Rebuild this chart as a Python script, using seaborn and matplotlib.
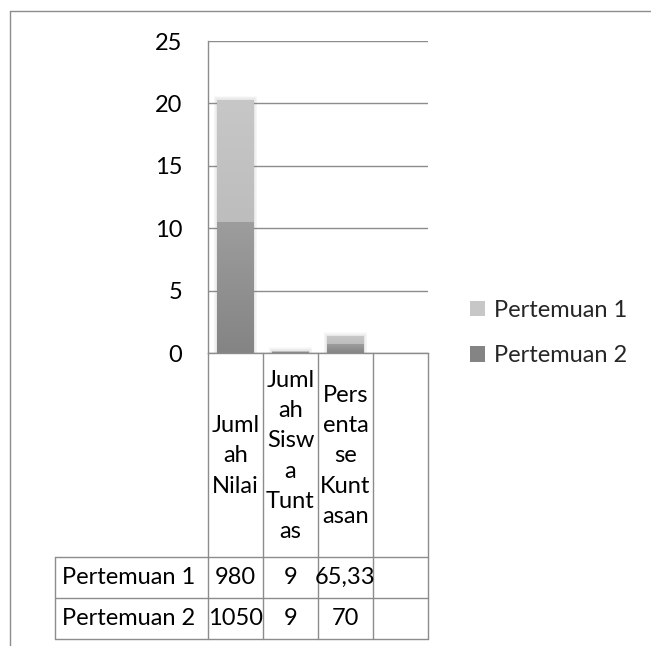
import numpy as np
import pandas as pd
import matplotlib
matplotlib.use("Agg")
import matplotlib.pyplot as plt
import matplotlib.transforms as mtransforms
from matplotlib.lines import Line2D
from matplotlib.patches import Patch, Rectangle
import seaborn as sns

# ---- data ----
categories = ["Jumlah Nilai", "Jumlah Siswa Tuntas", "Persentase Kuntasan"]
header_labels = ["Juml\nah\nNilai", "Juml\nah\nSisw\na\nTunt\nas", "Pers\nenta\nse\nKunt\nasan", ""]
series_names = ["Pertemuan 1", "Pertemuan 2"]
pertemuan_1 = [980, 9, 65.33]
pertemuan_2 = [1050, 9, 70]
table_p1 = ["980", "9", "65,33", ""]
table_p2 = ["1050", "9", "70", ""]
value_unit = 100          # the value axis counts in hundreds
y_ticks = [0, 5, 10, 15, 20, 25]

# ---- style ----
sns.set_theme(style="white")
plt.rcParams["font.family"] = ["Lato", "DejaVu Sans"]
FS = 17
light_top, light_bot = "#c7c7c7", "#b2b2b2"
dark_top, dark_bot = "#9d9d9d", "#848484"
line_col = "#8c8c8c"

W, H = 651, 646
fig = plt.figure(figsize=(W / 100, H / 100), dpi=100)
fig.patch.set_facecolor("white")

x_axis_y, top_y = 353, 41
ax = fig.add_axes([208 / W, 1 - x_axis_y / H, (428 - 208) / W, (x_axis_y - top_y) / H])

df = pd.DataFrame({
    "kategori": categories,
    "p1": np.array(pertemuan_1) / value_unit,
    "p2": np.array(pertemuan_2) / value_unit,
})
df["total"] = df["p1"] + df["p2"]

# stacked bars: Pertemuan 2 at the bottom, Pertemuan 1 above it
sns.barplot(data=df, x="kategori", y="total", color=light_bot, saturation=1,
            width=0.67, ax=ax, linewidth=0, zorder=3)
n_first = len(ax.patches)
sns.barplot(data=df, x="kategori", y="p2", color=dark_bot, saturation=1,
            width=0.67, ax=ax, linewidth=0, zorder=4)

def shade(patch, c_top, c_bot, z):
    """Vertical gradient fill clipped to a bar segment."""
    x0, y0 = patch.get_x(), patch.get_y()
    w, h = patch.get_width(), patch.get_height()
    if h <= 0:
        return
    top = np.array(matplotlib.colors.to_rgb(c_top))
    bot = np.array(matplotlib.colors.to_rgb(c_bot))
    t = np.linspace(0, 1, 64)[:, None]
    grad = (top * (1 - t) + bot * t)[:, None, :]
    im = ax.imshow(grad, extent=(x0, x0 + w, y0, y0 + h), aspect="auto",
                   origin="upper", zorder=z, interpolation="bilinear")
    im.set_clip_path(patch)

def soft_shadow(patch):
    """Faint blurred halo around the outer edge of a bar."""
    x0, w, h = patch.get_x(), patch.get_width(), patch.get_height()
    if h <= 0:
        return
    for k in range(1, 6):
        dx = 0.012 * k
        ax.add_patch(Rectangle((x0 - dx, 0), w + 2 * dx, h + 0.06 * k,
                               facecolor="#7a7a7a", edgecolor="none",
                               alpha=0.035, zorder=2.5))

bars = list(ax.patches)
for i, p in enumerate(bars):
    if i < n_first:
        soft_shadow(p)
        shade(p, light_top, light_bot, 3.5)
    else:
        shade(p, dark_top, dark_bot, 4.5)

ax.set_xlim(-0.5, 3.5)
ax.set_ylim(0, 25)
ax.set_yticks(y_ticks)
ax.set_xticks([])
ax.set_xlabel("")
ax.set_ylabel("")
ax.yaxis.grid(True, color=line_col, linewidth=1)
ax.set_axisbelow(True)
ax.tick_params(axis="y", length=0, pad=18.5, labelsize=FS, labelcolor="black")
for s in ("top", "right"):
    ax.spines[s].set_visible(False)
for s in ("left", "bottom"):
    ax.spines[s].set_color(line_col)
    ax.spines[s].set_linewidth(1)
    ax.spines[s].set_zorder(6)

# ---- data table under the axis ----
pix = mtransforms.Affine2D().scale(1 / W, -1 / H).translate(0, 1) + fig.transFigure
col_tr = mtransforms.blended_transform_factory(ax.transData, pix)

head_bot, row1_bot, row2_bot = 557, 598, 639
table_left, table_right = 55, 428

def line(xs, ys, tr):
    fig.add_artist(Line2D(xs, ys, transform=tr, color=line_col, linewidth=1))

for xb in [-0.5, 0.5, 1.5, 2.5, 3.5]:
    line([xb, xb], [x_axis_y, row2_bot], col_tr)
for yb in [head_bot, row1_bot, row2_bot]:
    line([table_left, table_right], [yb, yb], pix)
line([table_left, table_left], [head_bot, row2_bot], pix)

for i, lab in enumerate(header_labels):
    fig.text(i, (x_axis_y + head_bot) / 2 + 1, lab, transform=col_tr, ha="center",
             va="center", fontsize=FS, linespacing=1.55, color="black")

row_rows = [(series_names[0], table_p1, (head_bot + row1_bot) / 2),
            (series_names[1], table_p2, (row1_bot + row2_bot) / 2)]
for name, vals, yc in row_rows:
    fig.text(62, yc, name, transform=pix, ha="left", va="center", fontsize=FS, color="black")
    for i, v in enumerate(vals):
        fig.text(i, yc, v, transform=col_tr, ha="center", va="center", fontsize=FS, color="black")

# ---- legend ----
handles = [Patch(facecolor=light_top, edgecolor="none"), Patch(facecolor=dark_bot, edgecolor="none")]
fig.legend(handles, series_names, loc="center left",
           bbox_to_anchor=(470 / W, 1 - 333 / H), frameon=False, fontsize=FS,
           handlelength=0.62, handleheight=0.62, handletextpad=0.4,
           labelspacing=1.05, borderpad=0, borderaxespad=0)

# ---- outer frame ----
line([10, W], [11, 11], pix)
line([10, 10], [11, H], pix)

fig.savefig("out.png", dpi=100, facecolor="white")
